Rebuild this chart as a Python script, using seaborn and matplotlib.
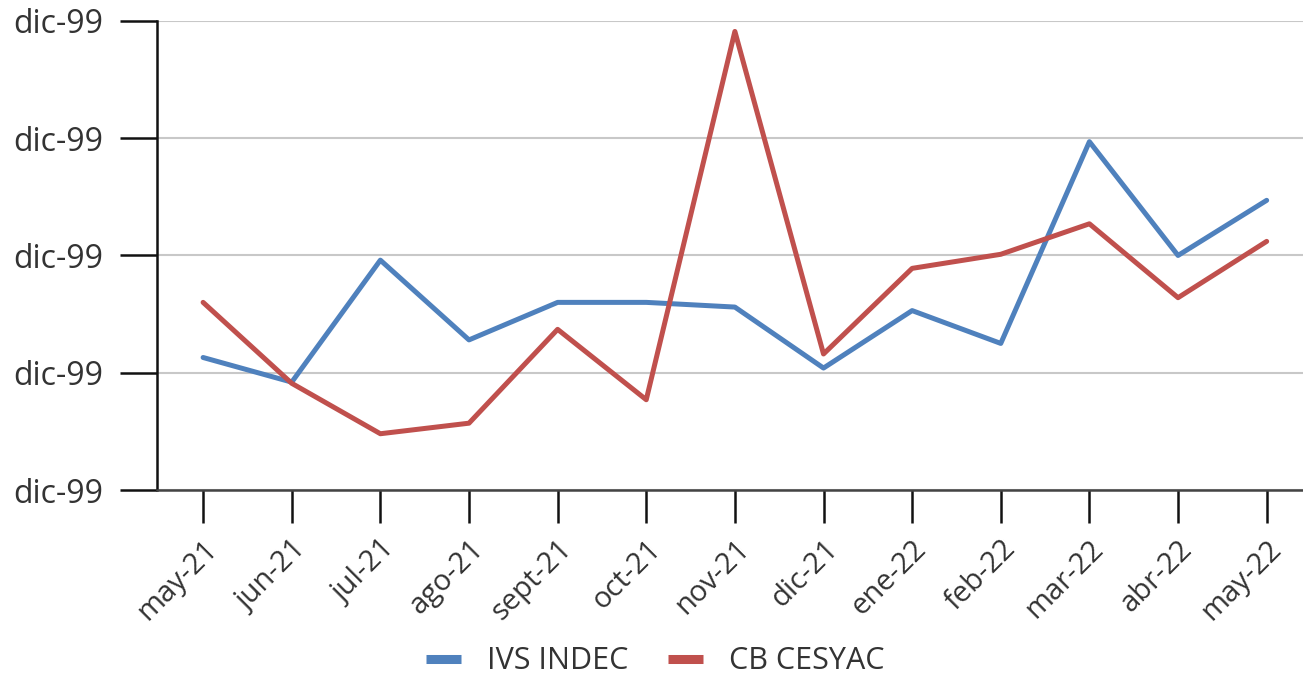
import numpy as np
import pandas as pd
import matplotlib
matplotlib.use("Agg")
import matplotlib.pyplot as plt
import seaborn as sns
from matplotlib.ticker import FixedLocator, FixedFormatter

months = ["may-21", "jun-21", "jul-21", "ago-21", "sept-21", "oct-21", "nov-21",
          "dic-21", "ene-22", "feb-22", "mar-22", "abr-22", "may-22"]
ivs_indec = [1.13, 0.92, 1.96, 1.28, 1.60, 1.60, 1.56, 1.04, 1.53, 1.25, 2.97, 2.00, 2.47]
cb_cesyac = [1.60, 0.91, 0.48, 0.57, 1.37, 0.77, 3.91, 1.16, 1.89, 2.01, 2.27, 1.64, 2.12]
series_names = ["IVS INDEC", "CB CESYAC"]
y_tick_labels = ["dic-99"] * 5

df = pd.DataFrame({
    "x": list(range(len(months))) * 2,
    "valor": ivs_indec + cb_cesyac,
    "serie": [series_names[0]] * len(months) + [series_names[1]] * len(months),
})

sns.set_theme(style="white")
plt.rcParams["font.family"] = ["Open Sans", "DejaVu Sans"]

fig = plt.figure(figsize=(13.03, 6.76), dpi=100)
ax = fig.add_axes([0.1205, 0.2751, 0.8795, 0.694])

sns.lineplot(data=df, x="x", y="valor", hue="serie",
             palette=["#4F81BD", "#C0504D"], linewidth=3.6, ax=ax,
             legend=True)

ax.set_xlim(-0.52, 12.41)
ax.set_ylim(0, 4)
ax.yaxis.set_major_locator(FixedLocator([0, 1, 2, 3, 4]))
ax.yaxis.set_major_formatter(FixedFormatter(y_tick_labels))
ax.set_xticks(range(len(months)))
ax.set_xticklabels(months, rotation=45, ha="right", rotation_mode="anchor")
ax.tick_params(axis="x", direction="out", length=24, width=1.8, color="#111111",
               labelsize=21, labelcolor="#333333", pad=8, bottom=True)
ax.tick_params(axis="y", direction="out", length=27, width=1.8, color="#111111",
               labelsize=23, labelcolor="#333333", pad=12, left=True)
ax.grid(axis="y", color="#c8c8c8", linewidth=1.5)
ax.grid(axis="x", visible=False)
ax.set_xlabel("")
ax.set_ylabel("")
for s in ["top", "right"]:
    ax.spines[s].set_visible(False)
ax.spines["left"].set_color("#111111")
ax.spines["left"].set_linewidth(1.8)
ax.spines["bottom"].set_color("#444444")
ax.spines["bottom"].set_linewidth(1.8)

ax.legend(title=None, loc="center", bbox_to_anchor=(0.435, -0.365),
          ncol=2, frameon=False, fontsize=22, handlelength=1.15,
          columnspacing=1.3, handletextpad=0.85, labelcolor="#333333")
for h in ax.get_legend().get_lines():
    h.set_linewidth(6.5)
    h.set_solid_capstyle("butt")

fig.savefig("out.png", dpi=100)
